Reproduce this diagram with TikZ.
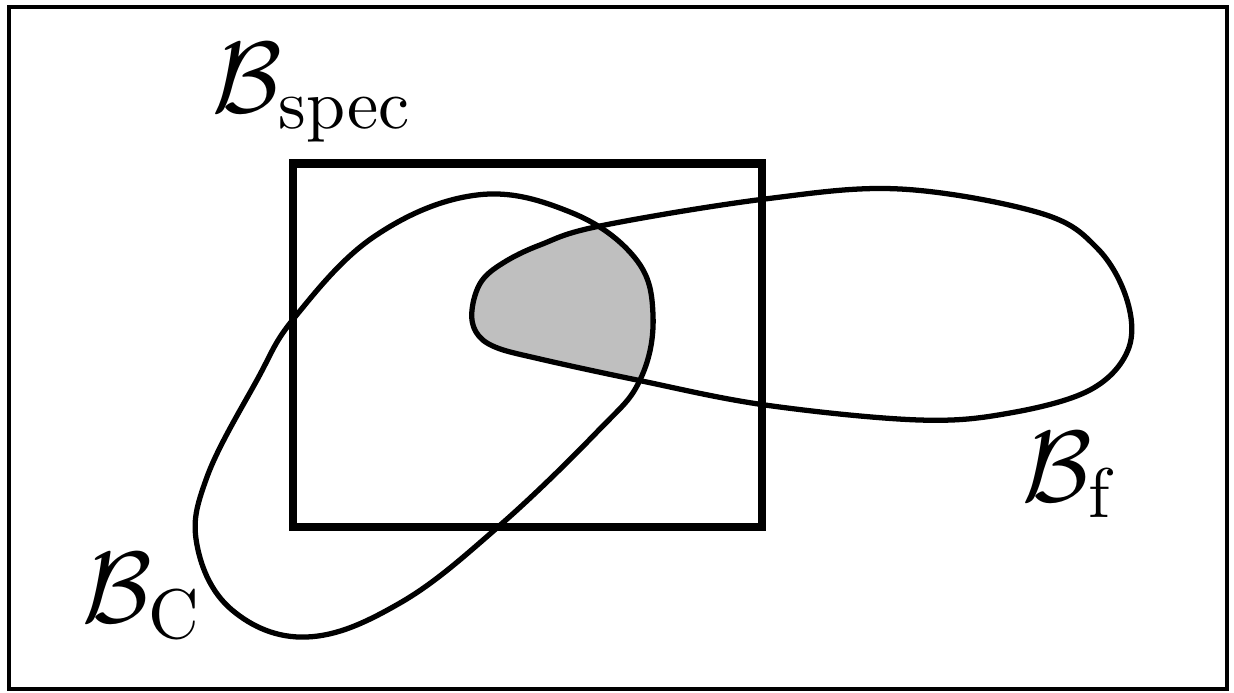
\documentclass[tikz,border=0pt]{standalone}
\usepackage{tikz}

% outlines of the two sets
\newcommand{\setC}{plot[smooth cycle, tension=0.65] coordinates {(295,317) (375,236) (477,195) (570,212) (635,258) (653,315) (640,380) (597,432) (498,527) (400,603) (307,637) (232,610) (197,545) (207,477) (257,380)}}
\newcommand{\setF}{plot[smooth cycle, tension=0.6] coordinates {(472,310) (481,282) (503,263) (540,245) (600,226) (765,199) (900,189) (1040,213) (1097,248) (1127,300) (1128,350) (1090,390) (1010,413) (919,420) (765,405) (637,380) (540,359) (495,347) (476,332)}}

\begin{document}
\begin{tikzpicture}[x=0.005cm, y=-0.005cm,
    blob/.style={line width=0.75pt},
    setlabel/.style={anchor=base west, inner sep=0pt, font=\Large}]
    \useasboundingbox (0,0) rectangle (1234,693);

    % frame
    \draw[line width=0.6pt] (9,7) rectangle (1227,689);

    % shaded part: inside both outlines
    \begin{scope}
        \clip \setC;
        \fill[black!25] \setF;
    \end{scope}

    % specification box
    \draw[line width=1.15pt] (293,163.5) rectangle (762,527);

    % outlines
    \draw[blob] \setC;
    \draw[blob] \setF;

    % labels
    \node[setlabel] (spec) at (211,113) {$\mathcal{B}_{\mathrm{spec}}$};
    \node[setlabel] (bf) at (1021,502) {$\mathcal{B}_{\mathrm{f}}$};
    \node[setlabel] (bc) at (81,623) {$\mathcal{B}_{\mathrm{C}}$};
\end{tikzpicture}
\end{document}
